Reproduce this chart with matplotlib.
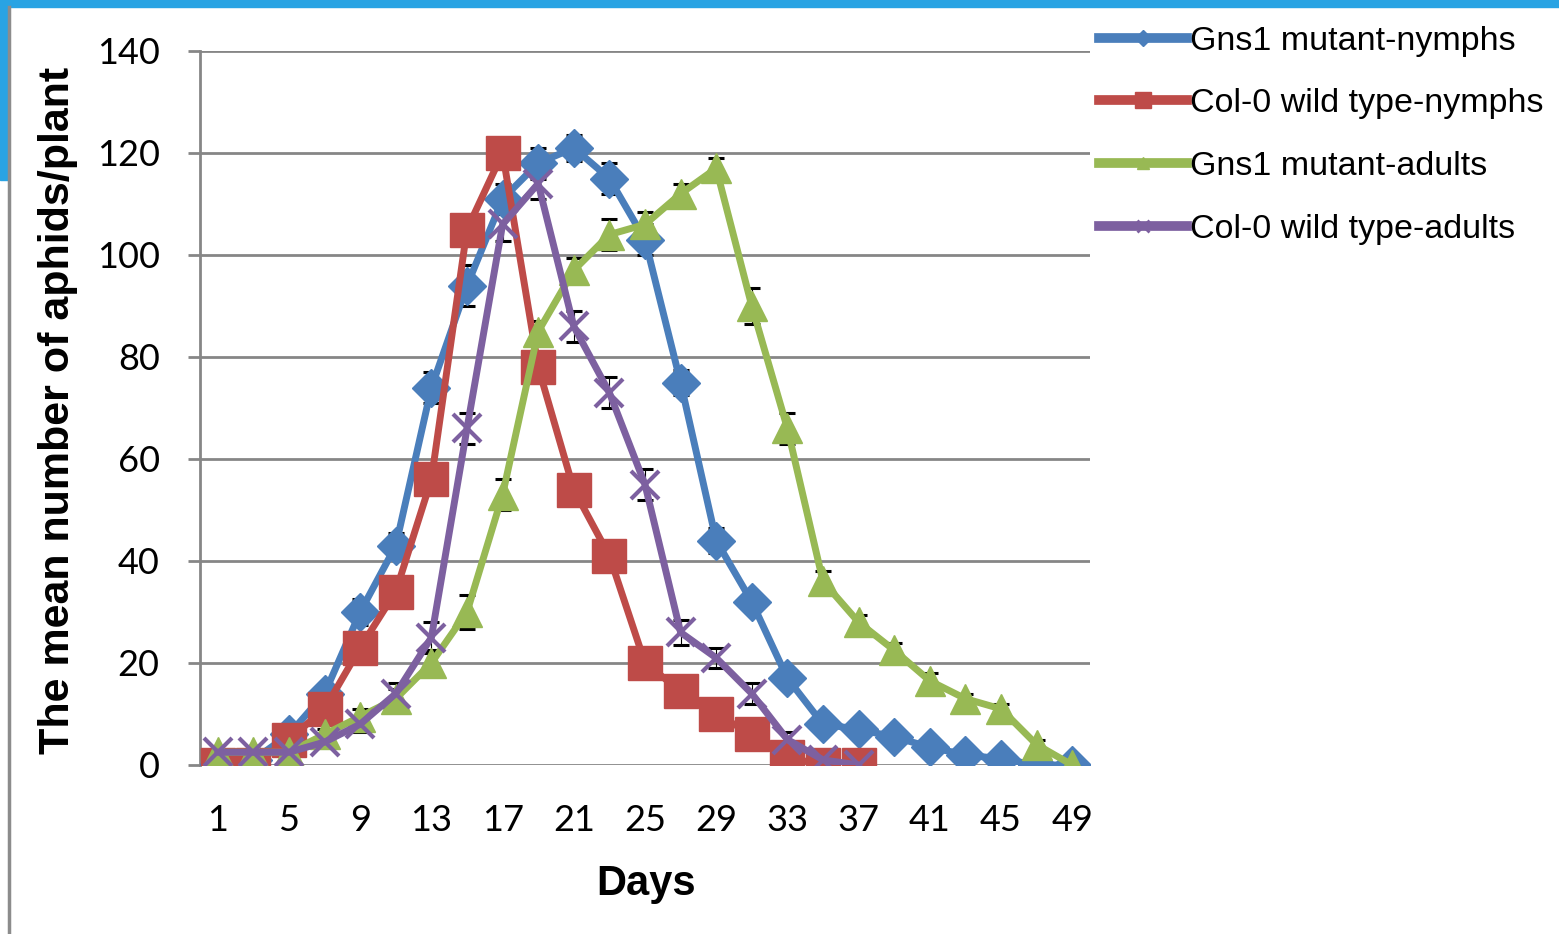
import matplotlib
matplotlib.use("Agg")
import matplotlib.pyplot as plt
from matplotlib.patches import Rectangle
from matplotlib.lines import Line2D

days = [1, 3, 5, 7, 9, 11, 13, 15, 17, 19, 21, 23, 25, 27, 29, 31, 33, 35, 37, 39, 41, 43, 45, 47, 49]
tick_days = [1, 5, 9, 13, 17, 21, 25, 29, 33, 37, 41, 45, 49]

gns1_nymphs = [0, 1, 6, 14, 30, 43, 74, 94, 111, 118, 121, 115, 103, 75, 44, 32, 17, 8, 7, 5.5, 3.5, 2, 1.2, 0, 0]
col0_nymphs = [0, 0, 5, 11, 23, 34, 56, 105, 120, 78, 54, 41, 20, 14.5, 10, 6, 1.5, 0, 0]
gns1_adults = [2.5, 2.5, 2.5, 6, 9.5, 13, 20, 30, 53, 85, 97, 104, 106, 112, 117, 90, 66, 36, 28, 22.5, 16.5, 13, 11, 4, 0]
col0_adults = [2.5, 2.5, 2.5, 4.5, 8, 14, 25, 66, 106, 114, 86, 73, 55, 26, 21, 14, 5, 1, 0]

gns1_nymphs_err = [0.3, 0.5, 1, 1.5, 2.5, 2.5, 3, 4, 3, 3, 2.5, 3, 3, 2.5, 2.5, 2, 1.5, 1, 1, 0.5, 0.5, 0.5, 0.5, 0.3, 0.3]
gns1_adults_err = [0.3, 0.3, 0.5, 1, 1.5, 2, 2.5, 3.3, 3, 2, 2.5, 3, 2.5, 2, 2, 3.5, 3, 2, 1.5, 1.5, 1.5, 1, 1, 1, 0.3]
col0_adults_err = [0.3, 0.3, 0.5, 1, 1.5, 2, 3, 3, 3.3, 3, 3, 3, 3, 2.5, 2, 2, 1.5, 0.5, 0.3]

labels = ["Gns1 mutant-nymphs", "Col-0 wild type-nymphs", "Gns1 mutant-adults", "Col-0 wild type-adults"]
colors = ["#4a7ebb", "#be4b48", "#98b954", "#7d60a0"]
grid_col = "#868686"

my_dpi = 100
fig = plt.figure(figsize=(1559 / my_dpi, 934 / my_dpi), dpi=my_dpi)
ax = fig.add_axes([200 / 1559, 1 - 765 / 934, 890 / 1559, 714 / 934])

x_all = list(range(len(days)))

# error bars first, so markers hide the stems and only the caps stick out
for vals, errs in [(gns1_nymphs, gns1_nymphs_err), (gns1_adults, gns1_adults_err), (col0_adults, col0_adults_err)]:
    ax.errorbar(x_all[:len(vals)], vals, yerr=errs, fmt="none", ecolor="black",
                elinewidth=0.8, capsize=6, capthick=2.2, zorder=2)

# series
ax.plot(x_all, gns1_nymphs, color=colors[0], lw=5, marker="D", ms=19, zorder=3)
ax.plot(x_all[:len(col0_nymphs)], col0_nymphs, color=colors[1], lw=5, marker="s", ms=24, zorder=4)
ax.plot(x_all, gns1_adults, color=colors[2], lw=5, marker="^", ms=22, zorder=5)
ax.plot(x_all[:len(col0_adults)], col0_adults, color=colors[3], lw=5, marker="x", ms=20, mew=3, zorder=6)

ax.set_xlim(-0.5, len(days) - 0.5)
ax.set_ylim(0, 140)
ax.set_yticks(range(0, 141, 20))
ax.set_xticks([days.index(d) for d in tick_days])
ax.set_xticklabels([str(d) for d in tick_days])

ax.grid(axis="y", color=grid_col, lw=2)
ax.set_axisbelow(True)
for s in ["top", "right", "bottom"]:
    ax.spines[s].set_visible(False)
ax.spines["left"].set_color(grid_col)
ax.spines["left"].set_linewidth(2)

ax.tick_params(axis="y", length=9, width=2, color=grid_col, pad=20, labelsize=26)
ax.tick_params(axis="x", length=0, pad=28, labelsize=26)
for t in ax.get_xticklabels() + ax.get_yticklabels():
    t.set_fontfamily("Lato")

fig.text(58 / 1559, 1 - 410 / 934, "The mean number of aphids/plant", rotation=90,
         ha="center", va="center", fontsize=31, fontweight="bold", family="Liberation Sans")
fig.text(646 / 1559, 1 - 884 / 934, "Days", ha="center", va="center",
         fontsize=30, fontweight="bold", family="Liberation Sans")

handles = [
    Line2D([], [], color=colors[0], lw=7, marker="D", ms=8),
    Line2D([], [], color=colors[1], lw=7, marker="s", ms=12),
    Line2D([], [], color=colors[2], lw=7, marker="^", ms=9),
    Line2D([], [], color=colors[3], lw=7, marker="x", ms=9, mew=2),
]
fig.legend(handles, labels, loc="upper left", bbox_to_anchor=(1085 / 1559, 1 - 12 / 934),
           frameon=False, prop={"family": "Liberation Sans", "size": 24.5},
           handlelength=2.6, handletextpad=0.1, labelspacing=0.93, borderaxespad=0)

# slide frame
fig.patches.append(Rectangle((0, 1 - 7 / 934), 1, 7 / 934, transform=fig.transFigure,
                             color="#29a3e3", zorder=0))
fig.patches.append(Rectangle((0, 1 - 180 / 934), 8 / 1559, 180 / 934, transform=fig.transFigure,
                             color="#29a3e3", zorder=0))
fig.lines.append(Line2D([9 / 1559, 9 / 1559], [0, 1 - 7 / 934], transform=fig.transFigure,
                        color="#8c8c8c", lw=2.5))

fig.savefig("out.png", dpi=my_dpi)
